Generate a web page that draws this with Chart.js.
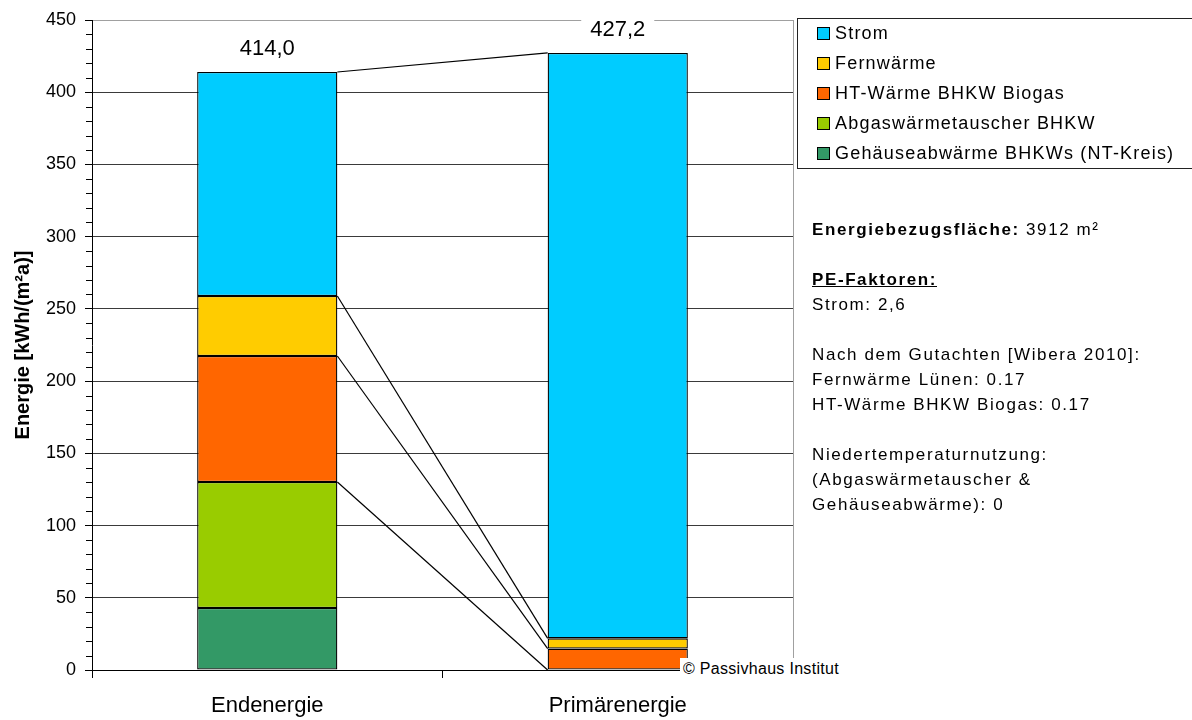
<!DOCTYPE html>
<html>
<head>
<meta charset="utf-8">
<script src="https://cdn.jsdelivr.net/npm/chart.js@4.4.1/dist/chart.umd.min.js"></script>
<style>
  body { margin: 0; background: #fff; font-family: "Liberation Sans", Arial, sans-serif; color: #000; }
  #wrap { position: relative; width: 1192px; height: 720px; overflow: hidden; }
  #legend { position: absolute; left: 797px; top: 18px; width: 420px; height: 151px;
    border: 1px solid #222; box-sizing: border-box; }
  .item { height: 29.8px; display: flex; align-items: center; padding-left: 19px;
    font-size: 18px; letter-spacing: 1.2px; }
  .item span.box { width: 11px; height: 11px; border: 1px solid #000; margin-right: 5px; flex: none; }
  #notes { position: absolute; left: 812px; top: 217px; font-size: 17px; line-height: 25px;
    letter-spacing: 1.6px; white-space: nowrap; }
  #copy { position: absolute; left: 680px; top: 658px; height: 22px; line-height: 22px;
    background: #fff; padding: 0 2px 0 3px; font-size: 16px; letter-spacing: 0.3px; }
</style>
</head>
<body>
<div id="wrap">
  <canvas id="chart" width="1192" height="720"></canvas>
  <div id="legend"></div>
  <div id="notes">
    <b>Energiebezugsfläche:</b> 3912 m²<br>
    <br>
    <b><u>PE-Faktoren:</u></b><br>
    Strom: 2,6<br>
    <br>
    Nach dem Gutachten [Wibera 2010]:<br>
    Fernwärme Lünen: 0.17<br>
    HT-Wärme BHKW Biogas: 0.17<br>
    <br>
    Niedertemperaturnutzung:<br>
    (Abgaswärmetauscher &amp;<br>
    Gehäuseabwärme): 0
  </div>
  <div id="copy">© Passivhaus Institut</div>
</div>
<script>
const categories = ["Endenergie", "Primärenergie"];
const gehaeuse = [42.9, 0];
const abgas = [87.3, 0];
const htWaerme = [87.2, 14.8];
const fernwaerme = [41.5, 7.1];
const strom = [155.1, 405.3];
const yTicks = [0, 50, 100, 150, 200, 250, 300, 350, 400, 450];

// stacked bottom to top
const series = [
  { label: "Gehäuseabwärme BHKWs (NT-Kreis)", data: gehaeuse, color: "#339966" },
  { label: "Abgaswärmetauscher BHKW", data: abgas, color: "#99cc00" },
  { label: "HT-Wärme BHKW Biogas", data: htWaerme, color: "#ff6600" },
  { label: "Fernwärme", data: fernwaerme, color: "#ffcc00" },
  { label: "Strom", data: strom, color: "#00ccff" }
];

const legend = document.getElementById("legend");
series.slice().reverse().forEach(s => {
  const row = document.createElement("div");
  row.className = "item";
  row.innerHTML = `<span class="box" style="background:${s.color}"></span>${s.label}`;
  legend.appendChild(row);
});

const extras = {
  id: "extras",
  beforeDatasetsDraw(chart) {
    const { ctx, chartArea: a, scales: { y } } = chart;
    ctx.save();
    // right border of plot
    ctx.strokeStyle = "#a0a0a0";
    ctx.lineWidth = 1;
    ctx.beginPath();
    ctx.moveTo(a.right + 0.5, a.top);
    ctx.lineTo(a.right + 0.5, a.bottom);
    ctx.stroke();
    // minor ticks
    ctx.strokeStyle = "#000";
    for (let v = 0; v <= 450; v += 10) {
      if (v % 50 === 0) continue;
      const py = Math.round(y.getPixelForValue(v)) + 0.5;
      ctx.beginPath();
      ctx.moveTo(a.left - 6, py);
      ctx.lineTo(a.left, py);
      ctx.stroke();
    }
    ctx.restore();
  },
  afterDatasetsDraw(chart) {
    const { ctx, scales: { y } } = chart;
    const barA = chart.getDatasetMeta(0).data[0];
    const barB = chart.getDatasetMeta(0).data[1];
    const x1 = barA.x + barA.width / 2;
    const x2 = barB.x - barB.width / 2;
    ctx.save();
    // connector lines between stack tops
    ctx.strokeStyle = "#000";
    ctx.lineWidth = 1.2;
    let cumA = 0, cumB = 0;
    series.forEach((s, i) => {
      cumA += s.data[0];
      cumB += s.data[1];
      if (i === 0) return;
      ctx.beginPath();
      ctx.moveTo(x1, y.getPixelForValue(cumA));
      ctx.lineTo(x2, y.getPixelForValue(cumB));
      ctx.stroke();
    });
    // totals
    ctx.font = "22px 'Liberation Sans', Arial, sans-serif";
    ctx.textAlign = "center";
    ctx.textBaseline = "middle";
    categories.forEach((c, j) => {
      const total = series.reduce((t, s) => t + s.data[j], 0);
      const txt = total.toFixed(1).replace(".", ",");
      const bar = chart.getDatasetMeta(0).data[j];
      const py = y.getPixelForValue(total) - 23;
      const w = ctx.measureText(txt).width + 18;
      ctx.fillStyle = "#fff";
      ctx.fillRect(bar.x - w / 2, py - 13, w, 26);
      ctx.fillStyle = "#000";
      ctx.fillText(txt, bar.x, py);
    });
    ctx.restore();
  }
};

new Chart(document.getElementById("chart"), {
  type: "bar",
  data: {
    labels: categories,
    datasets: series.map(s => ({
      label: s.label,
      data: s.data,
      backgroundColor: s.color,
      borderColor: "#000",
      borderWidth: 1.3,
      borderSkipped: false,
      barPercentage: 0.4,
      categoryPercentage: 1
    }))
  },
  options: {
    responsive: false,
    animation: false,
    devicePixelRatio: 1,
    layout: { padding: { left: 0, top: 20, right: 399, bottom: 0 } },
    plugins: { legend: { display: false }, tooltip: { enabled: false } },
    scales: {
      x: {
        stacked: true,
        afterFit: s => { s.height = 50; },
        grid: { drawOnChartArea: false, drawTicks: true, tickLength: 8, tickColor: "#000" },
        border: { color: "#000", width: 1 },
        ticks: { color: "#000", padding: 15, font: { family: "'Liberation Sans', Arial, sans-serif", size: 22 } }
      },
      y: {
        stacked: true,
        min: 0,
        max: 450,
        afterFit: s => { s.width = 92; },
        afterBuildTicks: s => { s.ticks = yTicks.map(v => ({ value: v })); },
        grid: {
          color: c => (c.tick && c.tick.value === 450 ? "#a0a0a0" : "#3a3a3a"),
          tickColor: "#000",
          tickLength: 7
        },
        border: { color: "#000", width: 1 },
        ticks: { color: "#000", padding: 9, font: { family: "'Liberation Sans', Arial, sans-serif", size: 18 } },
        title: {
          display: true,
          text: "Energie [kWh/(m²a)]",
          color: "#000",
          padding: { top: 11, bottom: 0 },
          font: { family: "'Liberation Sans', Arial, sans-serif", size: 20, weight: "bold" }
        }
      }
    }
  },
  plugins: [extras]
});
</script>
</body>
</html>
